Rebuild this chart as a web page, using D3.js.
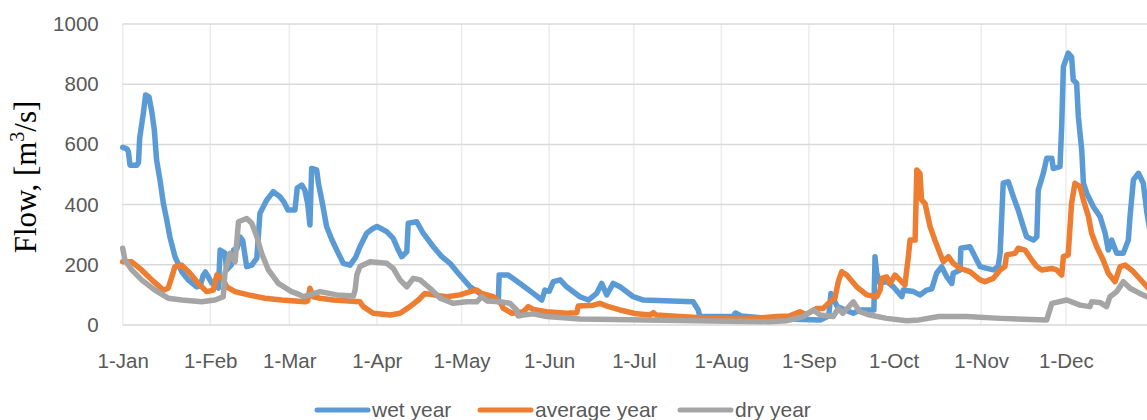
<!DOCTYPE html>
<html>
<head>
<meta charset="utf-8">
<script src="https://cdn.jsdelivr.net/npm/d3@7"></script>
<style>
  body { margin: 0; background: #fff; overflow: hidden; }
  .tick text { font-family: "Liberation Sans", Arial, sans-serif; fill: #595959; }
  .legend text { font-family: "Liberation Sans", Arial, sans-serif; fill: #595959; }
</style>
</head>
<body>
<div id="chart"></div>
<script>
// month ticks (day of year) and labels
var monthDays = [0, 31, 59, 90, 120, 151, 181, 212, 243, 273, 304, 334];
var monthLabels = ["1-Jan", "1-Feb", "1-Mar", "1-Apr", "1-May", "1-Jun", "1-Jul", "1-Aug", "1-Sep", "1-Oct", "1-Nov", "1-Dec"];
var flowTicks = [0, 200, 400, 600, 800, 1000];
var seriesNames = ["wet year", "average year", "dry year"];
var seriesColors = ["#5B9BD5", "#ED7D31", "#A5A5A5"];

// [day of year, flow m3/s]
var wetYear = [[0,590],[1.5,585],[2,576],[2.6,531],[5,531],[5.6,540],[6,620],[7.3,703],[8.1,764],[9.3,758],[10.3,709],[11.2,648],[12,548],[13.2,482],[14.4,404],[15.6,349],[16.7,293],[18.5,227],[20.9,177],[23.2,150],[26.2,127],[27.5,130],[28.5,165],[29.3,176],[30.3,160],[31.5,140],[33.9,123],[34.5,249],[36.2,239],[36.8,183],[38.5,200],[39.3,249],[40.5,255],[41.5,293],[42.5,280],[43.9,194],[45.7,199],[47.5,222],[48.6,371],[51,415],[53.3,443],[55.7,426],[57,410],[58.5,382],[61,382],[61.8,455],[63.4,465],[64.5,448],[65.5,404],[66.3,332],[66.9,520],[68.7,515],[69.3,471],[70.5,415],[72.2,327],[74,285],[75.8,249],[78.1,205],[80.5,199],[82.5,225],[84,260],[86.4,305],[88.5,320],[90,327],[92,318],[93.5,310],[95.8,288],[97.6,249],[98.8,227],[100.6,243],[101.1,338],[104.1,343],[106.4,305],[110,260],[113,227],[115.9,205],[118.8,172],[123,127],[126.5,105],[131.2,89],[133,77],[133.3,166],[136.5,166],[140.7,138],[145.4,105],[148.4,83],[149.5,116],[151,112],[152.5,144],[154.9,150],[157.2,127],[161.9,94],[164.9,83],[167.8,105],[169.6,138],[171.4,100],[173.7,138],[176.1,127],[180.8,94],[184.4,83],[202,77],[203.8,50],[204.4,28],[216,28],[217,40],[219,30],[229,22],[247,17],[250,30],[250.8,105],[253,61],[258.7,39],[261,50],[266,50],[266.4,227],[267,172],[268.2,138],[270.5,145],[272.9,127],[275.9,94],[276.4,116],[280,111],[282.3,100],[284.7,116],[286.5,120],[288.2,172],[290,194],[291.8,160],[293.6,138],[294.1,172],[296.5,183],[296.8,255],[300,260],[301.2,238],[303.6,194],[306,188],[308.3,183],[310,194],[310.7,238],[311.8,471],[313.6,476],[315.4,426],[317.1,382],[318.9,327],[320.1,293],[322.5,282],[323.7,293],[324.2,448],[326,504],[327.2,554],[329,554],[329.5,520],[331.9,526],[332.5,659],[333.1,858],[334.8,903],[336,891],[336.6,814],[337.8,803],[338.4,692],[339.6,581],[340.2,471],[341.4,437],[343.7,393],[346.1,360],[347.9,305],[349,249],[350.2,282],[352,238],[354.3,238],[356.1,282],[356.7,360],[357.9,482],[359.7,504],[361.4,471],[362.7,371],[364,300]];

var averageYear = [[0,210],[3.2,210],[6.7,183],[10.3,150],[14.4,116],[16.1,122],[17.4,160],[18.5,194],[20.9,199],[23.8,172],[26.8,138],[29.7,111],[32.1,116],[33.3,166],[34.5,160],[35.6,150],[36.8,127],[39.8,111],[44.5,100],[50.4,89],[56.3,83],[64.6,77],[65.5,80],[66.3,122],[67.5,94],[69.9,89],[74.6,83],[84,77],[85.2,61],[88.7,39],[94.7,33],[98.2,39],[101.7,61],[104.7,83],[107,105],[110,100],[114.7,94],[119.4,100],[123,111],[125.4,116],[127.1,105],[131.2,94],[133.6,77],[134.8,55],[137.8,39],[141.9,44],[143.6,61],[145.4,52],[150.1,44],[157.2,39],[160.8,41],[161.3,63],[166.6,66],[169,72],[171.4,63],[176.1,50],[182,37],[186.7,33],[187.9,41],[189,33],[197.3,28],[209,22],[220,20],[231.6,28],[236,30],[239.8,44],[242,35],[245.8,55],[248,55],[250.5,77],[252.2,89],[253.4,144],[254.6,177],[256.4,166],[259.9,127],[263.5,100],[267,94],[268.2,116],[268.8,155],[270.5,160],[271.7,138],[273.5,166],[275.2,150],[277,133],[278.2,227],[278.8,282],[280.6,282],[281.2,515],[282.3,504],[282.9,415],[284.1,404],[285.9,327],[287.6,282],[289.4,238],[290.6,210],[292.4,227],[294.1,205],[296.5,188],[300,177],[303.6,150],[305.3,144],[308.3,155],[310.7,183],[312.4,194],[313,233],[316,238],[317.1,255],[319.5,249],[321.9,216],[323.7,194],[325.4,183],[329,188],[330.7,183],[332.5,166],[333.1,227],[334.8,233],[336,404],[337.2,471],[339,460],[340.2,415],[342,360],[343.1,305],[344.9,260],[347.2,216],[349,172],[351.4,144],[353.2,194],[355,199],[357.9,177],[362.7,127],[364,115]];

var dryYear = [[0,255],[0.8,216],[3.2,183],[6.7,150],[11.4,116],[16.1,89],[20.9,83],[28,77],[32.7,83],[35.6,94],[36.2,172],[38,238],[39.8,210],[41,343],[43.9,354],[45.7,338],[47.5,293],[49.2,238],[51.6,183],[55.1,138],[59.8,111],[62.8,100],[64,94],[69.9,111],[75.8,100],[81.7,96],[82.3,116],[82.9,166],[84,194],[87.6,210],[93.5,205],[95.8,188],[98.2,150],[100.6,127],[102.9,155],[105.3,150],[108.8,122],[112.4,89],[117.1,72],[121.8,77],[125.4,77],[127.1,94],[129,80],[133.6,77],[137.1,72],[139.5,50],[140,30],[141.9,33],[145.4,37],[150.1,28],[162,20],[185.5,17],[209,13],[229,11],[235,14],[241,28],[244.5,50],[247,33],[251.6,28],[253.4,55],[255,39],[258.7,77],[261,44],[264.6,33],[270.5,22],[277.6,14],[282,17],[289,28],[298.9,28],[310.7,22],[327.2,17],[329,72],[334.3,83],[339,66],[342.5,61],[343.1,77],[346,75],[348.4,61],[349.6,94],[352,111],[354.3,144],[356.7,122],[360.2,105],[362.7,94],[364,88]];

var allSeries = [wetYear, averageYear, dryYear];

var width = 1147, height = 420;
var plotLeft = 122.7, plotTop = 24, plotBottom = 325;

var svg = d3.select("#chart").append("svg")
    .attr("width", width)
    .attr("height", height);

// scales - plot runs past the right edge like the original
var x = d3.scaleLinear().domain([0, 365]).range([plotLeft, plotLeft + 365 * 2.824]);
var y = d3.scaleLinear().domain([0, 1000]).range([plotBottom, plotTop]);

// vertical grid at month starts
svg.append("g")
    .selectAll("line")
    .data(monthDays)
    .enter().append("line")
    .attr("x1", function(d) { return x(d); })
    .attr("x2", function(d) { return x(d); })
    .attr("y1", plotTop)
    .attr("y2", plotBottom)
    .attr("stroke", "#ececec")
    .attr("stroke-width", 1.5);

// horizontal grid
svg.append("g")
    .selectAll("line")
    .data(flowTicks)
    .enter().append("line")
    .attr("x1", plotLeft)
    .attr("x2", width)
    .attr("y1", function(d) { return y(d); })
    .attr("y2", function(d) { return y(d); })
    .attr("stroke", "#d9d9d9")
    .attr("stroke-width", 1.5);

// y axis labels
var yAxis = svg.append("g")
    .attr("transform", "translate(" + (plotLeft - 24) + ",0)")
    .call(d3.axisLeft(y).tickValues(flowTicks).tickFormat(d3.format("d")).tickSize(0).tickPadding(0));
yAxis.select(".domain").remove();
yAxis.selectAll("text").style("font-size", "20.5px");

// x axis labels
var xAxis = svg.append("g")
    .attr("transform", "translate(0," + (plotBottom + 28) + ")")
    .call(d3.axisBottom(x).tickValues(monthDays)
        .tickFormat(function(d, i) { return monthLabels[i]; })
        .tickSize(0).tickPadding(0));
xAxis.select(".domain").remove();
xAxis.selectAll("text").style("font-size", "20.5px");

// y title
var title = svg.append("text")
    .attr("transform", "translate(36,177) rotate(-90)")
    .attr("text-anchor", "middle")
    .style("font-family", "'Liberation Serif', 'Times New Roman', serif")
    .style("font-size", "31px")
    .attr("fill", "#000");
title.append("tspan").text("Flow, [m");
title.append("tspan").attr("dy", -12).style("font-size", "20px").text("3");
title.append("tspan").attr("dy", 12).text("/s]");

// lines
var line = d3.line()
    .x(function(d) { return x(d[0]); })
    .y(function(d) { return y(d[1]); });

svg.append("g")
    .selectAll("path")
    .data(allSeries)
    .enter().append("path")
    .attr("d", line)
    .attr("fill", "none")
    .attr("stroke", function(d, i) { return seriesColors[i]; })
    .attr("stroke-width", 5.5)
    .attr("stroke-linejoin", "round")
    .attr("stroke-linecap", "round");

// legend
var legendX = [317, 480, 680];
var legend = svg.append("g").attr("class", "legend");
var items = legend.selectAll("g")
    .data(seriesNames)
    .enter().append("g")
    .attr("transform", function(d, i) { return "translate(" + legendX[i] + ",410)"; });
items.append("line")
    .attr("x1", 0).attr("x2", 51)
    .attr("stroke", function(d, i) { return seriesColors[i]; })
    .attr("stroke-width", 5)
    .attr("stroke-linecap", "round");
items.append("text")
    .attr("x", 55)
    .attr("y", 7)
    .style("font-size", "21px")
    .text(function(d) { return d; });
</script>
</body>
</html>
